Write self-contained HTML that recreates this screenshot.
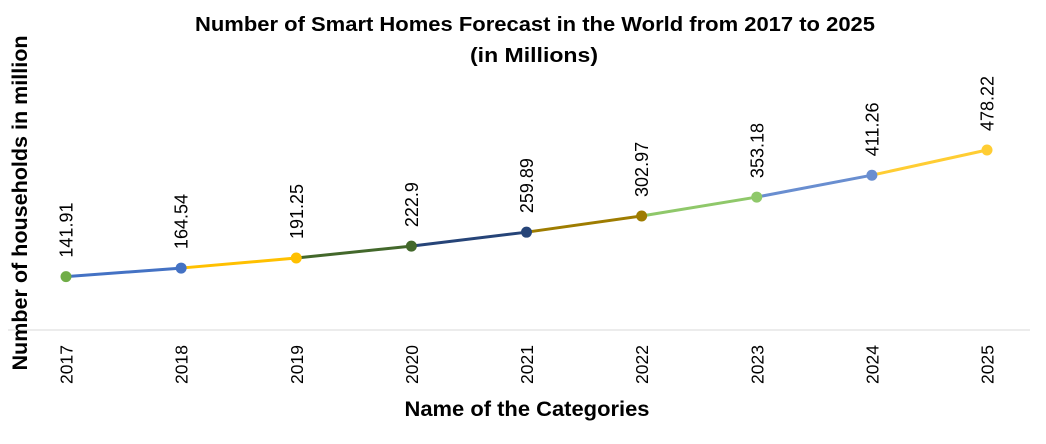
<!DOCTYPE html>
<html><head><meta charset="utf-8"><style>
body{margin:0;background:#fff}
svg{display:block;font-family:"Liberation Sans",Carlito,sans-serif}
</style></head><body>
<svg id="chart" width="1046" height="444" viewBox="0 0 1046 444">
<text x="535" y="31" text-anchor="middle" font-size="20" font-weight="bold" fill="#000" textLength="680" lengthAdjust="spacingAndGlyphs">Number of Smart Homes Forecast in the World from 2017 to 2025</text>
<text x="534" y="62" text-anchor="middle" font-size="20" font-weight="bold" fill="#000" textLength="128" lengthAdjust="spacingAndGlyphs">(in Millions)</text>
<line x1="8" y1="330" x2="1030" y2="330" stroke="#d9d9d9" stroke-width="1"/>
<text x="527" y="416" text-anchor="middle" font-size="21" font-weight="bold" fill="#000" textLength="245" lengthAdjust="spacingAndGlyphs">Name of the Categories</text>
<text transform="translate(27,203) rotate(-90)" text-anchor="middle" font-size="21" font-weight="bold" fill="#000" textLength="335" lengthAdjust="spacingAndGlyphs">Number of households in million</text>
<g id="marks"></g>
</svg>
<script>
const categories=["2017","2018","2019","2020","2021","2022","2023","2024","2025"];
const values=[141.91,164.54,191.25,222.9,259.89,302.97,353.18,411.26,478.22];
const labels=["141.91","164.54","191.25","222.9","259.89","302.97","353.18","411.26","478.22"];
const colors=["#70ad47","#4472c4","#ffc000","#43682b","#264478","#9e7c00","#8fc86a","#698ed0","#ffcd33"];
const NS="http://www.w3.org/2000/svg";
const g=document.getElementById('marks');
function xs(i){return 66+i*(921/(categories.length-1));}
function ys(v){return 330-v*0.3764;}
function mk(t,a){const e=document.createElementNS(NS,t);for(const k in a)e.setAttribute(k,a[k]);g.appendChild(e);return e;}
for(let i=1;i<values.length;i++){
 const l=mk('line',{x1:xs(i-1),y1:ys(values[i-1]),x2:xs(i),y2:ys(values[i]),stroke:colors[i],'stroke-width':3});
 
 
}
values.forEach((v,i)=>{
 const c=mk('circle',{cx:xs(i),cy:ys(v),r:5.5,fill:colors[i]});
 
 
 const t=mk('text',{transform:`translate(${xs(i)+6.5},${ys(v)-19}) rotate(-90)`,'font-size':18,fill:'#000'});
 t.textContent=labels[i];
 
 
 const k=mk('text',{transform:`translate(${xs(i)+6.5},384) rotate(-90)`,'font-size':17.5,fill:'#000'});
 k.textContent=categories[i];
 
 
});
</script>
</body></html>
